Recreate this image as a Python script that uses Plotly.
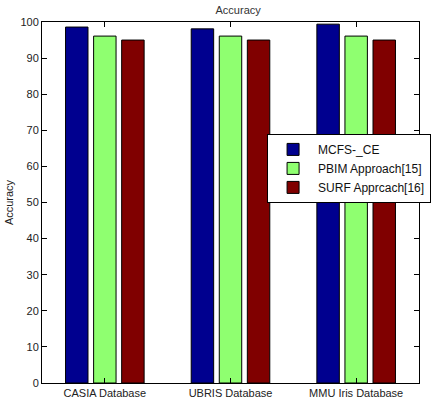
import plotly.graph_objects as go

categories = ["CASIA Database", "UBRIS Database", "MMU Iris Database"]
series_names = ["MCFS-_CE", "PBIM Approach[15]", "SURF Apprcach[16]"]
mcfs = [98.6, 98.1, 99.4]
pbim = [96.1, 96.1, 96.1]
surf = [95.0, 95.0, 95.0]
colors = ["#00008F", "#8FFF70", "#800000"]
yticks = [0, 10, 20, 30, 40, 50, 60, 70, 80, 90, 100]

fig = go.Figure()
for name, vals, c in zip(series_names, [mcfs, pbim, surf], colors):
    fig.add_trace(go.Bar(x=[1, 2, 3], y=vals, name=name, marker_color=c,
                         marker_line=dict(color="black", width=1)))

font = dict(family="Liberation Sans, Arial", size=11, color="#222")
fig.update_layout(
    width=437, height=406,
    margin=dict(l=42, r=6, t=22, b=23),
    paper_bgcolor="white", plot_bgcolor="white",
    barmode="group", bargap=0.33, bargroupgap=0.2,
    font=font,
    title=dict(text="Accuracy", x=0.545, xanchor="center", y=0.985, yanchor="top",
               font=dict(size=11, color="#333")),
    showlegend=True,
    legend=dict(x=0.597, y=0.69, xanchor="left", yanchor="top", bgcolor="white",
                bordercolor="black", borderwidth=1, font=dict(size=12, color="#111"),
                tracegroupgap=0, itemwidth=40),
    xaxis=dict(range=[0.5, 3.5], tickvals=[1, 2, 3], ticktext=categories,
               showline=True, linecolor="black", linewidth=1, mirror="ticks",
               ticks="inside", ticklen=5, tickcolor="black", showgrid=False,
               zeroline=False),
    yaxis=dict(range=[0, 100], tickvals=yticks, showline=True, linecolor="black",
               linewidth=1, mirror="ticks", ticks="inside", ticklen=5, tickcolor="black",
               showgrid=False, zeroline=False,
               title=dict(text="Accuracy", standoff=4, font=dict(size=11))),
)
fig.write_html("out.html")
